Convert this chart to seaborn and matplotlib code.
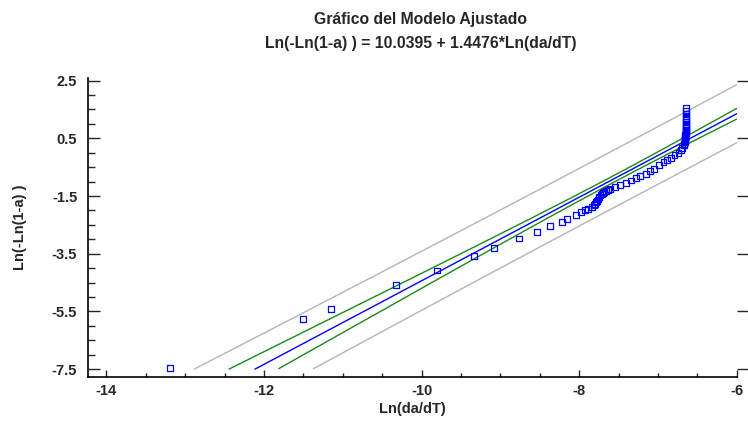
import numpy as np
import pandas as pd
import matplotlib
matplotlib.use("Agg")
import matplotlib.pyplot as plt
import seaborn as sns
from matplotlib.ticker import MultipleLocator, FixedLocator

# ---- data ----
x_obs = [-13.19, -11.50, -11.15, -10.33, -9.81, -9.335, -9.076, -8.76, -8.54, -8.37,
         -8.22, -8.15, -8.04, -7.975, -7.93, -7.89, -7.84,
         -7.81, -7.795, -7.785, -7.775, -7.765, -7.755, -7.745, -7.73, -7.715, -7.70,
         -7.68, -7.66, -7.635,
         -7.61, -7.55, -7.48, -7.41, -7.34, -7.28, -7.23, -7.155, -7.10, -7.05,
         -6.99, -6.93, -6.89, -6.83, -6.79, -6.74,
         -6.71, -6.69, -6.675, -6.665, -6.66,
         -6.657, -6.656, -6.655, -6.654, -6.653, -6.652, -6.651, -6.650, -6.650, -6.649,
         -6.649, -6.648, -6.648, -6.647, -6.647, -6.646, -6.646, -6.645, -6.645, -6.645,
         -6.644, -6.644]
y_obs = [-7.47, -5.77, -5.41, -4.59, -4.08, -3.585, -3.31, -2.97, -2.74, -2.535,
         -2.40, -2.30, -2.15, -2.06, -1.99, -1.945, -1.87,
         -1.82, -1.77, -1.72, -1.67, -1.62, -1.57, -1.52, -1.47, -1.43, -1.39,
         -1.35, -1.32, -1.28,
         -1.25, -1.20, -1.13, -1.06, -0.96, -0.89, -0.80, -0.73, -0.64, -0.56,
         -0.43, -0.32, -0.26, -0.17, -0.09, 0.00,
         0.10, 0.18, 0.25, 0.31, 0.36,
         0.40, 0.44, 0.48, 0.52, 0.56, 0.60, 0.64, 0.68, 0.72, 0.76,
         0.80, 0.85, 0.90, 0.95, 1.00, 1.06, 1.12, 1.19, 1.27, 1.36,
         1.45, 1.55]

intercept = 10.0395
slope = 1.4476
t_crit = 1.99          # 95 % two-sided

x_ticks = [-14, -12, -10, -8, -6]
y_ticks = [-7.5, -5.5, -3.5, -1.5, 0.5, 2.5]
title = "Gráfico del Modelo Ajustado\nLn(-Ln(1-a) ) = 10.0395 + 1.4476*Ln(da/dT)"
x_label = "Ln(da/dT)"
y_label = "Ln(-Ln(1-a) )"

# ---- regression statistics from the data ----
xa = np.asarray(x_obs)
ya = np.asarray(y_obs)
n = len(xa)
xbar = xa.mean()
sxx = ((xa - xbar) ** 2).sum()
resid = ya - (intercept + slope * xa)
s = np.sqrt((resid ** 2).sum() / (n - 2))

xg = np.linspace(-14.23, -6.0, 600)
fit = intercept + slope * xg
conf = t_crit * s * np.sqrt(1 / n + (xg - xbar) ** 2 / sxx)
pred = t_crit * s * np.sqrt(1 + 1 / n + (xg - xbar) ** 2 / sxx)

def clip(v):
    v = v.copy()
    v[v < -7.5] = np.nan
    return v

sns.set_style("ticks")
fam = ["Liberation Sans Narrow", "Liberation Sans", "DejaVu Sans"]
plt.rcParams["font.family"] = fam

fig = plt.figure(figsize=(7.48, 4.26), dpi=100)
ax = fig.add_axes([0.118, 0.1157, 0.867, 0.7005])

for vals, col, lw in [(fit + pred, "#b4b4b4", 1.0), (fit - pred, "#b4b4b4", 1.0),
                      (fit + conf, "#1a8a1a", 1.0), (fit - conf, "#1a8a1a", 1.0),
                      (fit, "#0000ff", 1.0)]:
    d = pd.DataFrame({"x": xg, "y": clip(vals)}).dropna()
    sns.lineplot(data=d, x="x", y="y", color=col, linewidth=lw, ax=ax,
                 estimator=None, sort=False)

sns.scatterplot(x=x_obs, y=y_obs, marker="s", s=18, facecolor="none",
                edgecolor="#0000ff", linewidth=0.9, ax=ax, zorder=5)

ax.set_xlim(-14.23, -6.0)
ax.set_ylim(-7.76, 2.58)
ax.xaxis.set_major_locator(FixedLocator(x_ticks))
ax.xaxis.set_minor_locator(MultipleLocator(0.5))
ax.yaxis.set_major_locator(FixedLocator(y_ticks))
ax.yaxis.set_minor_locator(FixedLocator(np.arange(-7.5, 2.6, 0.5)))
ax.set_xticklabels([f"{v:g}" for v in x_ticks])
ax.set_yticklabels([f"{v:g}" for v in y_ticks])

for sp in ["top", "right"]:
    ax.spines[sp].set_visible(False)
for sp in ["left", "bottom"]:
    ax.spines[sp].set_linewidth(1.2)
    ax.spines[sp].set_color("black")

ax.tick_params(axis="x", which="major", direction="in", length=5, width=1, pad=5,
               labelsize=10.5)
ax.tick_params(axis="x", which="minor", direction="in", length=3, width=1)
ax.tick_params(axis="y", which="major", direction="in", length=8.5, width=1, pad=8,
               labelsize=10.5)
ax.tick_params(axis="y", which="minor", direction="in", length=5, width=1)
for lab in ax.get_xticklabels() + ax.get_yticklabels():
    lab.set_fontweight("bold")

sec = ax.secondary_yaxis("right")
sec.spines["right"].set_visible(False)
sec.yaxis.set_major_locator(FixedLocator(y_ticks))
sec.tick_params(axis="y", which="major", direction="out", length=8, width=1,
                labelright=False)
sec.tick_params(axis="y", which="minor", length=0)

ax.set_xlabel(x_label, fontsize=10.5, fontweight="bold", labelpad=3)
ax.set_ylabel(y_label, fontsize=10.5, fontweight="bold", labelpad=18)
fig.suptitle(title, x=0.562, y=0.972, fontsize=11.3, fontweight="bold",
             linespacing=1.75, va="top")

fig.savefig("out.png", dpi=100)
